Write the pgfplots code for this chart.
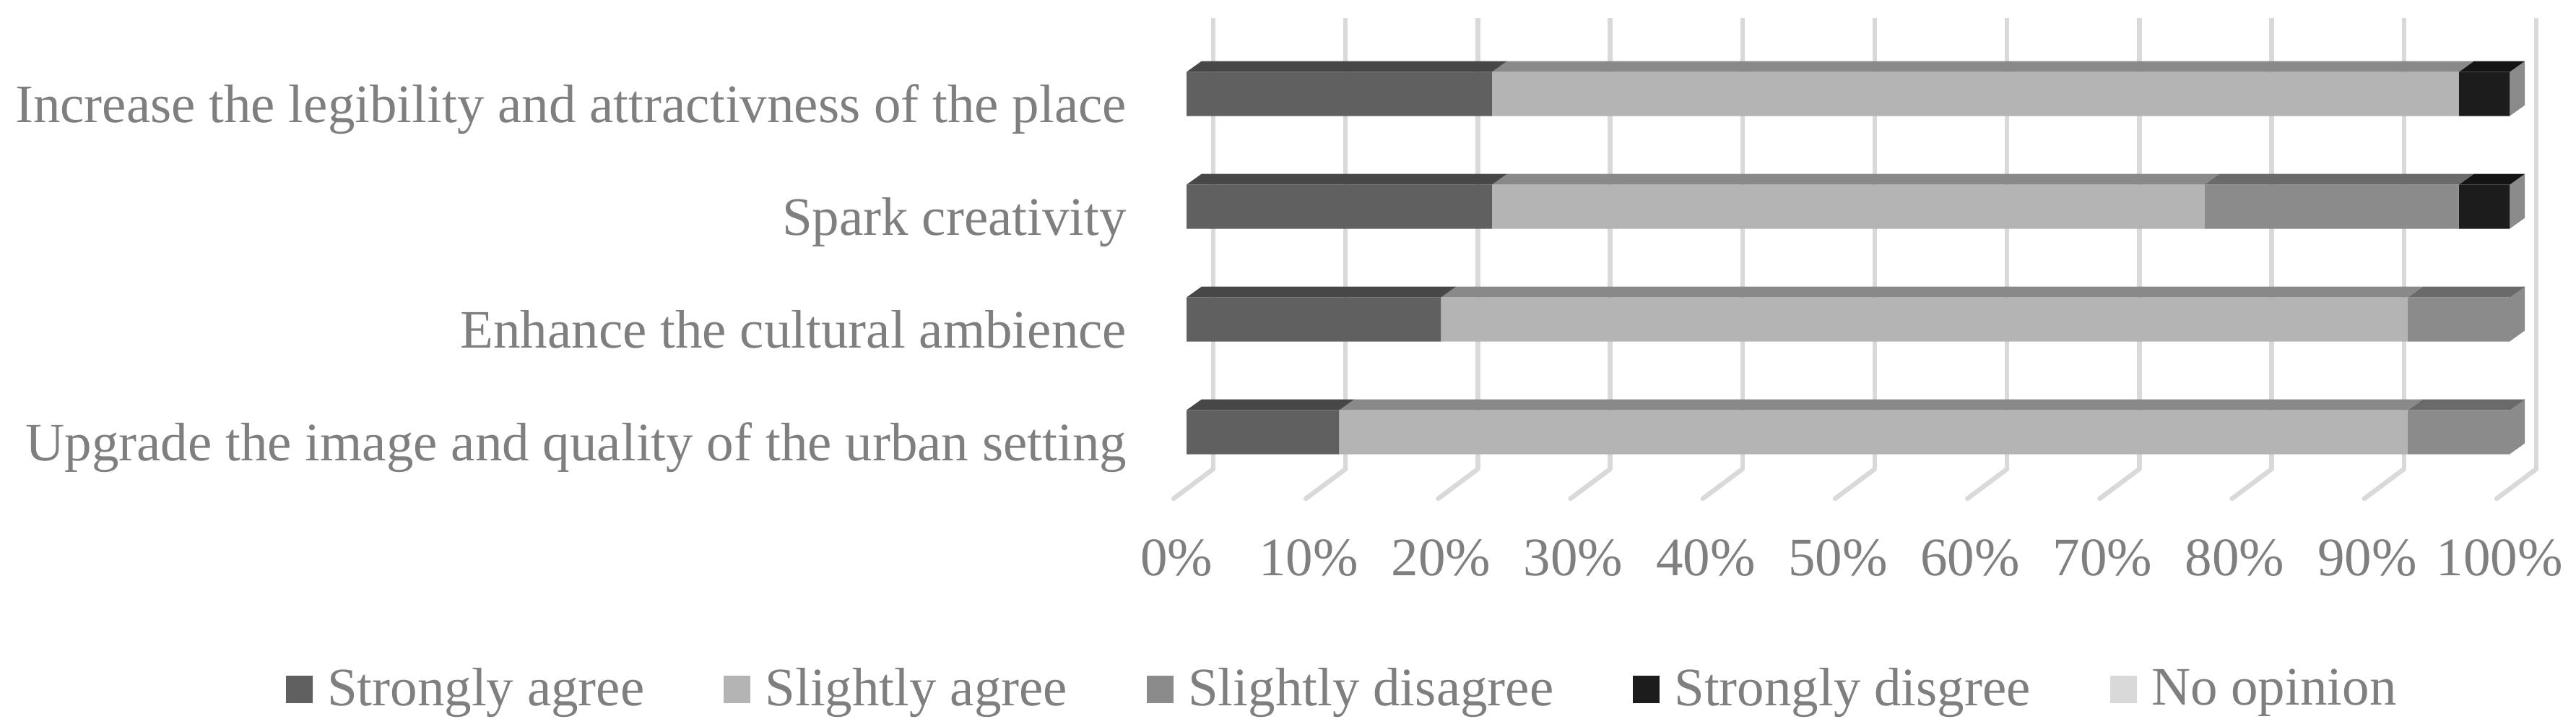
\documentclass[border=0pt]{standalone}
\usepackage{fontspec}
\setmainfont{Liberation Serif}
\usepackage{pgfplots}
\usepackage{pgfplotstable}
\pgfplotsset{compat=1.18}

\definecolor{saF}{HTML}{606060}
\definecolor{saT}{HTML}{474747}
\definecolor{slaF}{HTML}{B4B4B4}
\definecolor{slaT}{HTML}{898989}
\definecolor{sldF}{HTML}{8B8B8B}
\definecolor{sldT}{HTML}{6A6A6A}
\definecolor{sdF}{HTML}{1C1C1C}
\definecolor{sdT}{HTML}{141414}
\definecolor{noF}{HTML}{D9D9D9}
\definecolor{sideC}{HTML}{8B8B8B}
\definecolor{gridC}{HTML}{D9D9D9}
\definecolor{txt}{HTML}{7F7F7F}

% shares of answers in %, rows bottom to top
\pgfplotstableread{
y  sa    sla   sld   sd   no
0  11.54 80.77 7.69  0    0
1  19.23 73.08 7.69  0    0
2  23.08 53.85 19.23 3.85 0
3  23.08 73.08 0     3.85 0
}\answers

% 3d look: top face of a segment, side face at the end of a bar
\newcommand\topface[4]{%
  \fill[#1] ([yshift=6.1pt]axis cs:#3,#2) -- ([yshift=6.1pt]axis cs:#4,#2)
    -- ([xshift=4.2pt,yshift=9.1pt]axis cs:#4,#2) -- ([xshift=4.2pt,yshift=9.1pt]axis cs:#3,#2) -- cycle;}
\newcommand\sideface[2]{%
  \fill[sideC] ([yshift=6.1pt]axis cs:#2,#1) -- ([yshift=-6.1pt]axis cs:#2,#1)
    -- ([xshift=4.2pt,yshift=-3.1pt]axis cs:#2,#1) -- ([xshift=4.2pt,yshift=9.1pt]axis cs:#2,#1) -- cycle;}

\def\faces{}
\newcommand\addfaces[1]{%
  \pgfplotstablegetelem{#1}{sa}\of\answers \pgfmathsetmacro\ca{\pgfplotsretval}%
  \pgfplotstablegetelem{#1}{sla}\of\answers \pgfmathsetmacro\cb{\ca+\pgfplotsretval}%
  \pgfplotstablegetelem{#1}{sld}\of\answers \pgfmathsetmacro\cc{\cb+\pgfplotsretval}%
  \pgfplotstablegetelem{#1}{sd}\of\answers \pgfmathsetmacro\cd{\cc+\pgfplotsretval}%
  \xdef\faces{\faces
    \noexpand\topface{saT}{#1}{0}{\ca}\noexpand\topface{slaT}{#1}{\ca}{\cb}%
    \noexpand\topface{sldT}{#1}{\cb}{\cc}\noexpand\topface{sdT}{#1}{\cc}{\cd}%
    \noexpand\sideface{#1}{\cd}}}

\begin{document}
\addfaces{0}\addfaces{1}\addfaces{2}\addfaces{3}%
\begin{tikzpicture}
\begin{axis}[
  at={(328.6pt,65.8pt)}, anchor=south west,
  width=366.4pt, height=124.8pt, scale only axis,
  xbar stacked, bar width=12.2pt,
  xmin=0, xmax=100, ymin=-0.5, ymax=3.5,
  clip=false,
  axis line style={draw=none},
  tick style={draw=none},
  xmajorgrids,
  major grid style={gridC, line width=1.3pt, xshift=7.4pt, yshift=5.4pt},
  xtick={0,10,...,100},
  xticklabel={\pgfmathprintnumber{\tick}\%},
  ytick={0,1,2,3},
  yticklabels={Upgrade the image and quality of the urban setting,
    Enhance the cultural ambience, Spark creativity,
    Increase the legibility and attractivness of the place},
  ticklabel style={font=\fontsize{15}{18}\selectfont, text=txt, inner sep=0pt},
  xticklabel style={anchor=center, xshift=-2.8pt, yshift=-19.2pt},
  yticklabel style={anchor=base east, xshift=-16.4pt, yshift=-7.8pt},
  /pgf/number format/assume math mode=true,
  legend columns=5,
  legend style={at={(-0.6812,-0.4455)}, anchor=west, draw=none, fill=none,
    inner sep=0pt, font=\fontsize{15}{18}\selectfont, text=txt,
    nodes={inner sep=0pt},
    /tikz/every odd column/.append style={column sep=4pt},
    /tikz/every even column/.append style={column sep=22pt}},
  legend image code/.code={\fill[#1] (0pt,-3.8pt) rectangle (7.4pt,3.8pt);},
]
\addplot[fill=saF, draw=none] table[x=sa, y=y]{\answers};
\addplot[fill=slaF, draw=none] table[x=sla, y=y]{\answers};
\addplot[fill=sldF, draw=none] table[x=sld, y=y]{\answers};
\addplot[fill=sdF, draw=none] table[x=sd, y=y]{\answers};
\addplot[fill=noF, draw=none] table[x=no, y=y]{\answers};
\legend{Strongly agree, Slightly agree, Slightly disagree, Strongly disgree, No opinion}
% floor lines below the bars
\pgfplotsinvokeforeach{0,10,...,100}{
  \draw[gridC, line width=1.3pt, line cap=round]
    ([xshift=-3.6pt,yshift=-2.8pt]axis cs:#1,-0.5)
    -- ([xshift=7.4pt,yshift=5.4pt]axis cs:#1,-0.5);
}
\faces
\end{axis}
\pgfresetboundingbox
\path[use as bounding box] (0,0) rectangle (713.4pt,201pt);
\end{tikzpicture}
\end{document}
